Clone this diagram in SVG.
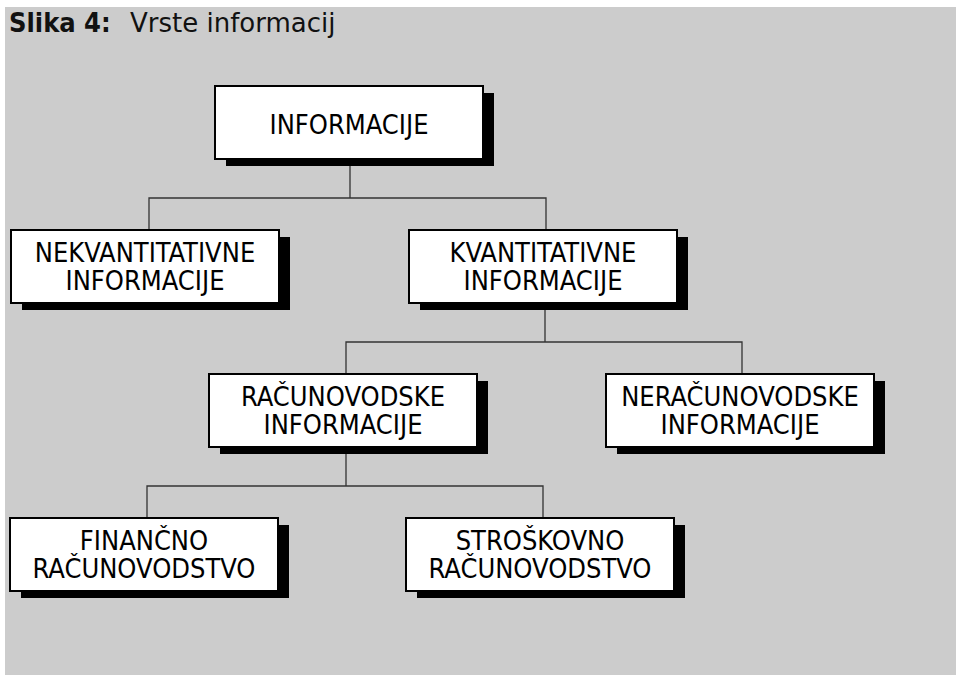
<svg xmlns="http://www.w3.org/2000/svg" width="956" height="675" viewBox="0 0 956 675">
<style>
.bg{fill:#cccccc}
.shadow{fill:#000000}
.box{fill:#ffffff;stroke:#000000;stroke-width:2}
.lbl{font-family:"DejaVu Sans Condensed","DejaVu Sans",sans-serif;font-size:27px;fill:#000000;text-anchor:middle}
.title{font-family:"DejaVu Sans Condensed","DejaVu Sans",sans-serif;font-size:27px;fill:#111111}
.conn{fill:none;stroke:#333333;stroke-width:1.3}
</style>
<rect x="0" y="0" width="956" height="675" fill="#ffffff"/>
<rect class="bg" x="5" y="7" width="951" height="668"/>
<text class="title" x="9" y="32" font-weight="bold">Slika 4:</text>
<text class="title" x="130" y="32" style="font-family:'DejaVu Sans',sans-serif;font-size:26px">Vrste informacij</text>
<g id="connectors">
<path class="conn" d="M350,166 V198 M149,230 V198 H546 V230"/>
<path class="conn" d="M545,310 V342 M346,374 V342 H742 V374"/>
<path class="conn" d="M346,454 V486 M147,518 V486 H543 V518"/>
</g>
<g id="n-informacije">
<rect class="shadow" x="226" y="93" width="268" height="73"/>
<rect class="box" x="215" y="86" width="268" height="73"/>
<text class="lbl" x="349" y="134">INFORMACIJE</text>
</g>
<g id="n-nekvant">
<rect class="shadow" x="22" y="237" width="268" height="73"/>
<rect class="box" x="11" y="230" width="268" height="73"/>
<text class="lbl" x="145" y="262">NEKVANTITATIVNE</text>
<text class="lbl" x="145" y="290">INFORMACIJE</text>
</g>
<g id="n-kvant">
<rect class="shadow" x="420" y="237" width="268" height="73"/>
<rect class="box" x="409" y="230" width="268" height="73"/>
<text class="lbl" x="543" y="262">KVANTITATIVNE</text>
<text class="lbl" x="543" y="290">INFORMACIJE</text>
</g>
<g id="n-racun">
<rect class="shadow" x="220" y="381" width="268" height="73"/>
<rect class="box" x="209" y="374" width="268" height="73"/>
<text class="lbl" x="343" y="406">RAČUNOVODSKE</text>
<text class="lbl" x="343" y="434">INFORMACIJE</text>
</g>
<g id="n-neracun">
<rect class="shadow" x="617" y="381" width="268" height="73"/>
<rect class="box" x="606" y="374" width="268" height="73"/>
<text class="lbl" x="740" y="406">NERAČUNOVODSKE</text>
<text class="lbl" x="740" y="434">INFORMACIJE</text>
</g>
<g id="n-financno">
<rect class="shadow" x="21" y="525" width="268" height="73"/>
<rect class="box" x="10" y="518" width="268" height="73"/>
<text class="lbl" x="144" y="550">FINANČNO</text>
<text class="lbl" x="144" y="578">RAČUNOVODSTVO</text>
</g>
<g id="n-stroskovno">
<rect class="shadow" x="417" y="525" width="268" height="73"/>
<rect class="box" x="406" y="518" width="268" height="73"/>
<text class="lbl" x="540" y="550">STROŠKOVNO</text>
<text class="lbl" x="540" y="578">RAČUNOVODSTVO</text>
</g>
</svg>
